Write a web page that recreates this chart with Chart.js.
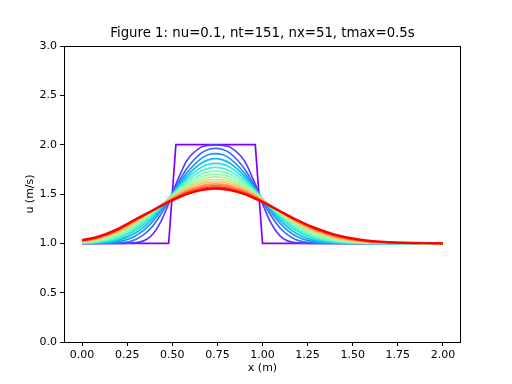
<!DOCTYPE html>
<html>
<head>
<meta charset="utf-8">
<script src="https://cdn.jsdelivr.net/npm/chart.js@4"></script>
<style>
  html, body { margin: 0; padding: 0; background: #fff; }
  canvas { display: block; }
</style>
</head>
<body>
<canvas id="diffusionChart" width="512" height="384"></canvas>
<script>
// Initial hat profile (t = 0)
const xHat = [0, 0.48, 0.52, 0.96, 1.00, 2.00];
const uHat = [1.0, 1.0, 2.0, 2.0, 1.0, 1.0];

// Sample positions read along the x axis
const xGrid = [0, 0.08, 0.20, 0.30, 0.38, 0.44, 0.48, 0.52, 0.58, 0.66, 0.70, 0.74, 0.78,
               0.82, 0.90, 0.96, 1.00, 1.04, 1.10, 1.18, 1.28, 1.40, 1.54, 1.70, 2.00];

// u values of each plotted profile (every 10 steps)
const step10  = [1.000, 1.000, 1.000, 1.007, 1.071, 1.231, 1.403, 1.597, 1.836, 1.975, 1.993, 1.997, 1.993, 1.975, 1.836, 1.597, 1.403, 1.231, 1.071, 1.007, 1.000, 1.000, 1.000, 1.000, 1.000];
const step20  = [1.000, 1.000, 1.004, 1.042, 1.150, 1.302, 1.431, 1.569, 1.755, 1.914, 1.951, 1.962, 1.951, 1.914, 1.755, 1.569, 1.431, 1.302, 1.150, 1.042, 1.005, 1.000, 1.000, 1.000, 1.000];
const step30  = [1.000, 1.001, 1.015, 1.079, 1.198, 1.336, 1.444, 1.556, 1.712, 1.859, 1.898, 1.910, 1.898, 1.859, 1.712, 1.556, 1.444, 1.336, 1.198, 1.079, 1.017, 1.002, 1.000, 1.000, 1.000];
const step40  = [1.001, 1.004, 1.030, 1.110, 1.231, 1.356, 1.450, 1.546, 1.681, 1.811, 1.846, 1.858, 1.846, 1.811, 1.681, 1.546, 1.450, 1.356, 1.231, 1.110, 1.033, 1.005, 1.000, 1.000, 1.000];
const step50  = [1.002, 1.008, 1.045, 1.137, 1.255, 1.370, 1.453, 1.538, 1.655, 1.770, 1.801, 1.811, 1.801, 1.770, 1.655, 1.538, 1.453, 1.370, 1.255, 1.137, 1.050, 1.011, 1.001, 1.000, 1.000];
const step60  = [1.004, 1.013, 1.060, 1.158, 1.273, 1.379, 1.454, 1.529, 1.633, 1.733, 1.760, 1.770, 1.760, 1.733, 1.633, 1.529, 1.454, 1.379, 1.273, 1.158, 1.067, 1.018, 1.003, 1.000, 1.000];
const step70  = [1.006, 1.018, 1.074, 1.177, 1.287, 1.384, 1.453, 1.520, 1.612, 1.701, 1.725, 1.733, 1.725, 1.701, 1.612, 1.520, 1.453, 1.384, 1.287, 1.177, 1.082, 1.026, 1.005, 1.000, 1.000];
const step80  = [1.009, 1.024, 1.087, 1.192, 1.297, 1.388, 1.450, 1.511, 1.594, 1.673, 1.694, 1.701, 1.694, 1.673, 1.594, 1.511, 1.450, 1.388, 1.297, 1.192, 1.097, 1.034, 1.008, 1.001, 1.000];
const step90  = [1.012, 1.030, 1.099, 1.205, 1.305, 1.390, 1.447, 1.502, 1.577, 1.647, 1.666, 1.673, 1.666, 1.647, 1.577, 1.502, 1.447, 1.390, 1.305, 1.205, 1.110, 1.043, 1.011, 1.002, 1.000];
const step100 = [1.016, 1.036, 1.109, 1.215, 1.311, 1.390, 1.443, 1.493, 1.561, 1.624, 1.641, 1.647, 1.641, 1.624, 1.561, 1.493, 1.443, 1.390, 1.311, 1.215, 1.122, 1.052, 1.015, 1.003, 1.000];
const step110 = [1.019, 1.042, 1.119, 1.224, 1.316, 1.389, 1.438, 1.485, 1.546, 1.604, 1.619, 1.624, 1.619, 1.604, 1.546, 1.485, 1.438, 1.389, 1.316, 1.224, 1.132, 1.060, 1.019, 1.004, 1.000];
const step120 = [1.023, 1.048, 1.128, 1.232, 1.319, 1.388, 1.433, 1.476, 1.532, 1.584, 1.597, 1.602, 1.597, 1.584, 1.532, 1.476, 1.433, 1.388, 1.319, 1.232, 1.142, 1.069, 1.024, 1.006, 1.000];
const step130 = [1.027, 1.053, 1.135, 1.238, 1.321, 1.386, 1.428, 1.468, 1.520, 1.568, 1.581, 1.585, 1.581, 1.568, 1.520, 1.468, 1.428, 1.386, 1.321, 1.238, 1.150, 1.076, 1.028, 1.007, 1.000];
const step140 = [1.030, 1.058, 1.141, 1.243, 1.322, 1.384, 1.423, 1.461, 1.509, 1.553, 1.565, 1.569, 1.565, 1.553, 1.509, 1.461, 1.423, 1.384, 1.322, 1.243, 1.157, 1.083, 1.033, 1.009, 1.000];
const step150 = [1.033, 1.062, 1.147, 1.247, 1.323, 1.381, 1.419, 1.453, 1.499, 1.540, 1.551, 1.554, 1.551, 1.540, 1.499, 1.453, 1.419, 1.381, 1.323, 1.247, 1.164, 1.089, 1.037, 1.011, 1.000];

const profiles = [step10, step20, step30, step40, step50, step60, step70, step80,
                  step90, step100, step110, step120, step130, step140, step150];

// Axis ticks
const xTicks = [0, 0.25, 0.5, 0.75, 1.0, 1.25, 1.5, 1.75, 2.0];
const yTicks = [0, 0.5, 1.0, 1.5, 2.0, 2.5, 3.0];

const titleText = 'Figure 1: nu=0.1, nt=151, nx=51, tmax=0.5s';
const fontFamily = '"DejaVu Sans", sans-serif';

// matplotlib "rainbow" colormap
function rainbow(t) {
    const clip = v => Math.max(0, Math.min(1, v));
    const r = clip(Math.abs(2 * t - 0.5));
    const g = clip(Math.sin(Math.PI * t));
    const b = clip(Math.cos(Math.PI * t / 2));
    return `rgb(${Math.round(r * 255)}, ${Math.round(g * 255)}, ${Math.round(b * 255)})`;
}

const nCurves = profiles.length + 1;

const datasets = [{
    data: xHat.map((x, i) => ({ x: x, y: uHat[i] })),
    borderColor: rainbow(0),
    borderWidth: 1.7,
    tension: 0,
    order: nCurves
}];

profiles.forEach((p, k) => {
    const last = k === profiles.length - 1;
    datasets.push({
        data: xGrid.map((x, i) => ({ x: x, y: p[i] })),
        borderColor: rainbow((k + 1) / (nCurves - 1)),
        borderWidth: last ? 2.4 : 1.7,
        cubicInterpolationMode: 'monotone',
        order: nCurves - (k + 1)
    });
});

// frame, title and axis labels like matplotlib
const framePlugin = {
    id: 'frame',
    afterDraw(chart) {
        const { ctx, chartArea: a } = chart;
        ctx.save();
        ctx.strokeStyle = '#000';
        ctx.lineWidth = 1;
        ctx.strokeRect(a.left + 0.5, a.top + 0.5, a.right - a.left - 1, a.bottom - a.top);

        const cx = (a.left + a.right) / 2;
        ctx.fillStyle = '#000';
        ctx.textAlign = 'center';
        ctx.textBaseline = 'middle';
        ctx.font = `13.3px ${fontFamily}`;
        ctx.fillText(titleText, cx, 34);

        ctx.font = `11px ${fontFamily}`;
        ctx.fillText('x (m)', cx, 368);

        ctx.translate(30, (a.top + a.bottom) / 2);
        ctx.rotate(-Math.PI / 2);
        ctx.fillText('u (m/s)', 0, 0);
        ctx.restore();
    }
};

const ctx = document.getElementById('diffusionChart').getContext('2d');

new Chart(ctx, {
    type: 'scatter',
    data: { datasets: datasets },
    options: {
        responsive: false,
        animation: false,
        devicePixelRatio: 1,
        showLine: true,
        elements: {
            point: { radius: 0 },
            line: { fill: false }
        },
        layout: {
            padding: { top: 46, right: 51, left: 0, bottom: 0 }
        },
        plugins: {
            legend: { display: false },
            tooltip: { enabled: false },
            title: { display: false }
        },
        scales: {
            x: {
                type: 'linear',
                min: -0.1,
                max: 2.1,
                border: { display: false },
                grid: { drawOnChartArea: false, drawTicks: true, tickLength: 4, color: '#000' },
                afterBuildTicks: scale => { scale.ticks = xTicks.map(v => ({ value: v })); },
                afterFit: scale => { scale.height = 42; },
                ticks: {
                    color: '#000',
                    autoSkip: false,
                    maxRotation: 0,
                    padding: 3,
                    font: { family: fontFamily, size: 11 },
                    callback: v => Number(v).toFixed(2)
                }
            },
            y: {
                type: 'linear',
                min: 0,
                max: 3,
                border: { display: false },
                grid: { drawOnChartArea: false, drawTicks: true, tickLength: 4, color: '#000' },
                afterBuildTicks: scale => { scale.ticks = yTicks.map(v => ({ value: v })); },
                afterFit: scale => { scale.width = 64; },
                ticks: {
                    color: '#000',
                    autoSkip: false,
                    padding: 3,
                    font: { family: fontFamily, size: 11 },
                    callback: v => Number(v).toFixed(1)
                }
            }
        }
    },
    plugins: [framePlugin]
});
</script>
</body>
</html>
